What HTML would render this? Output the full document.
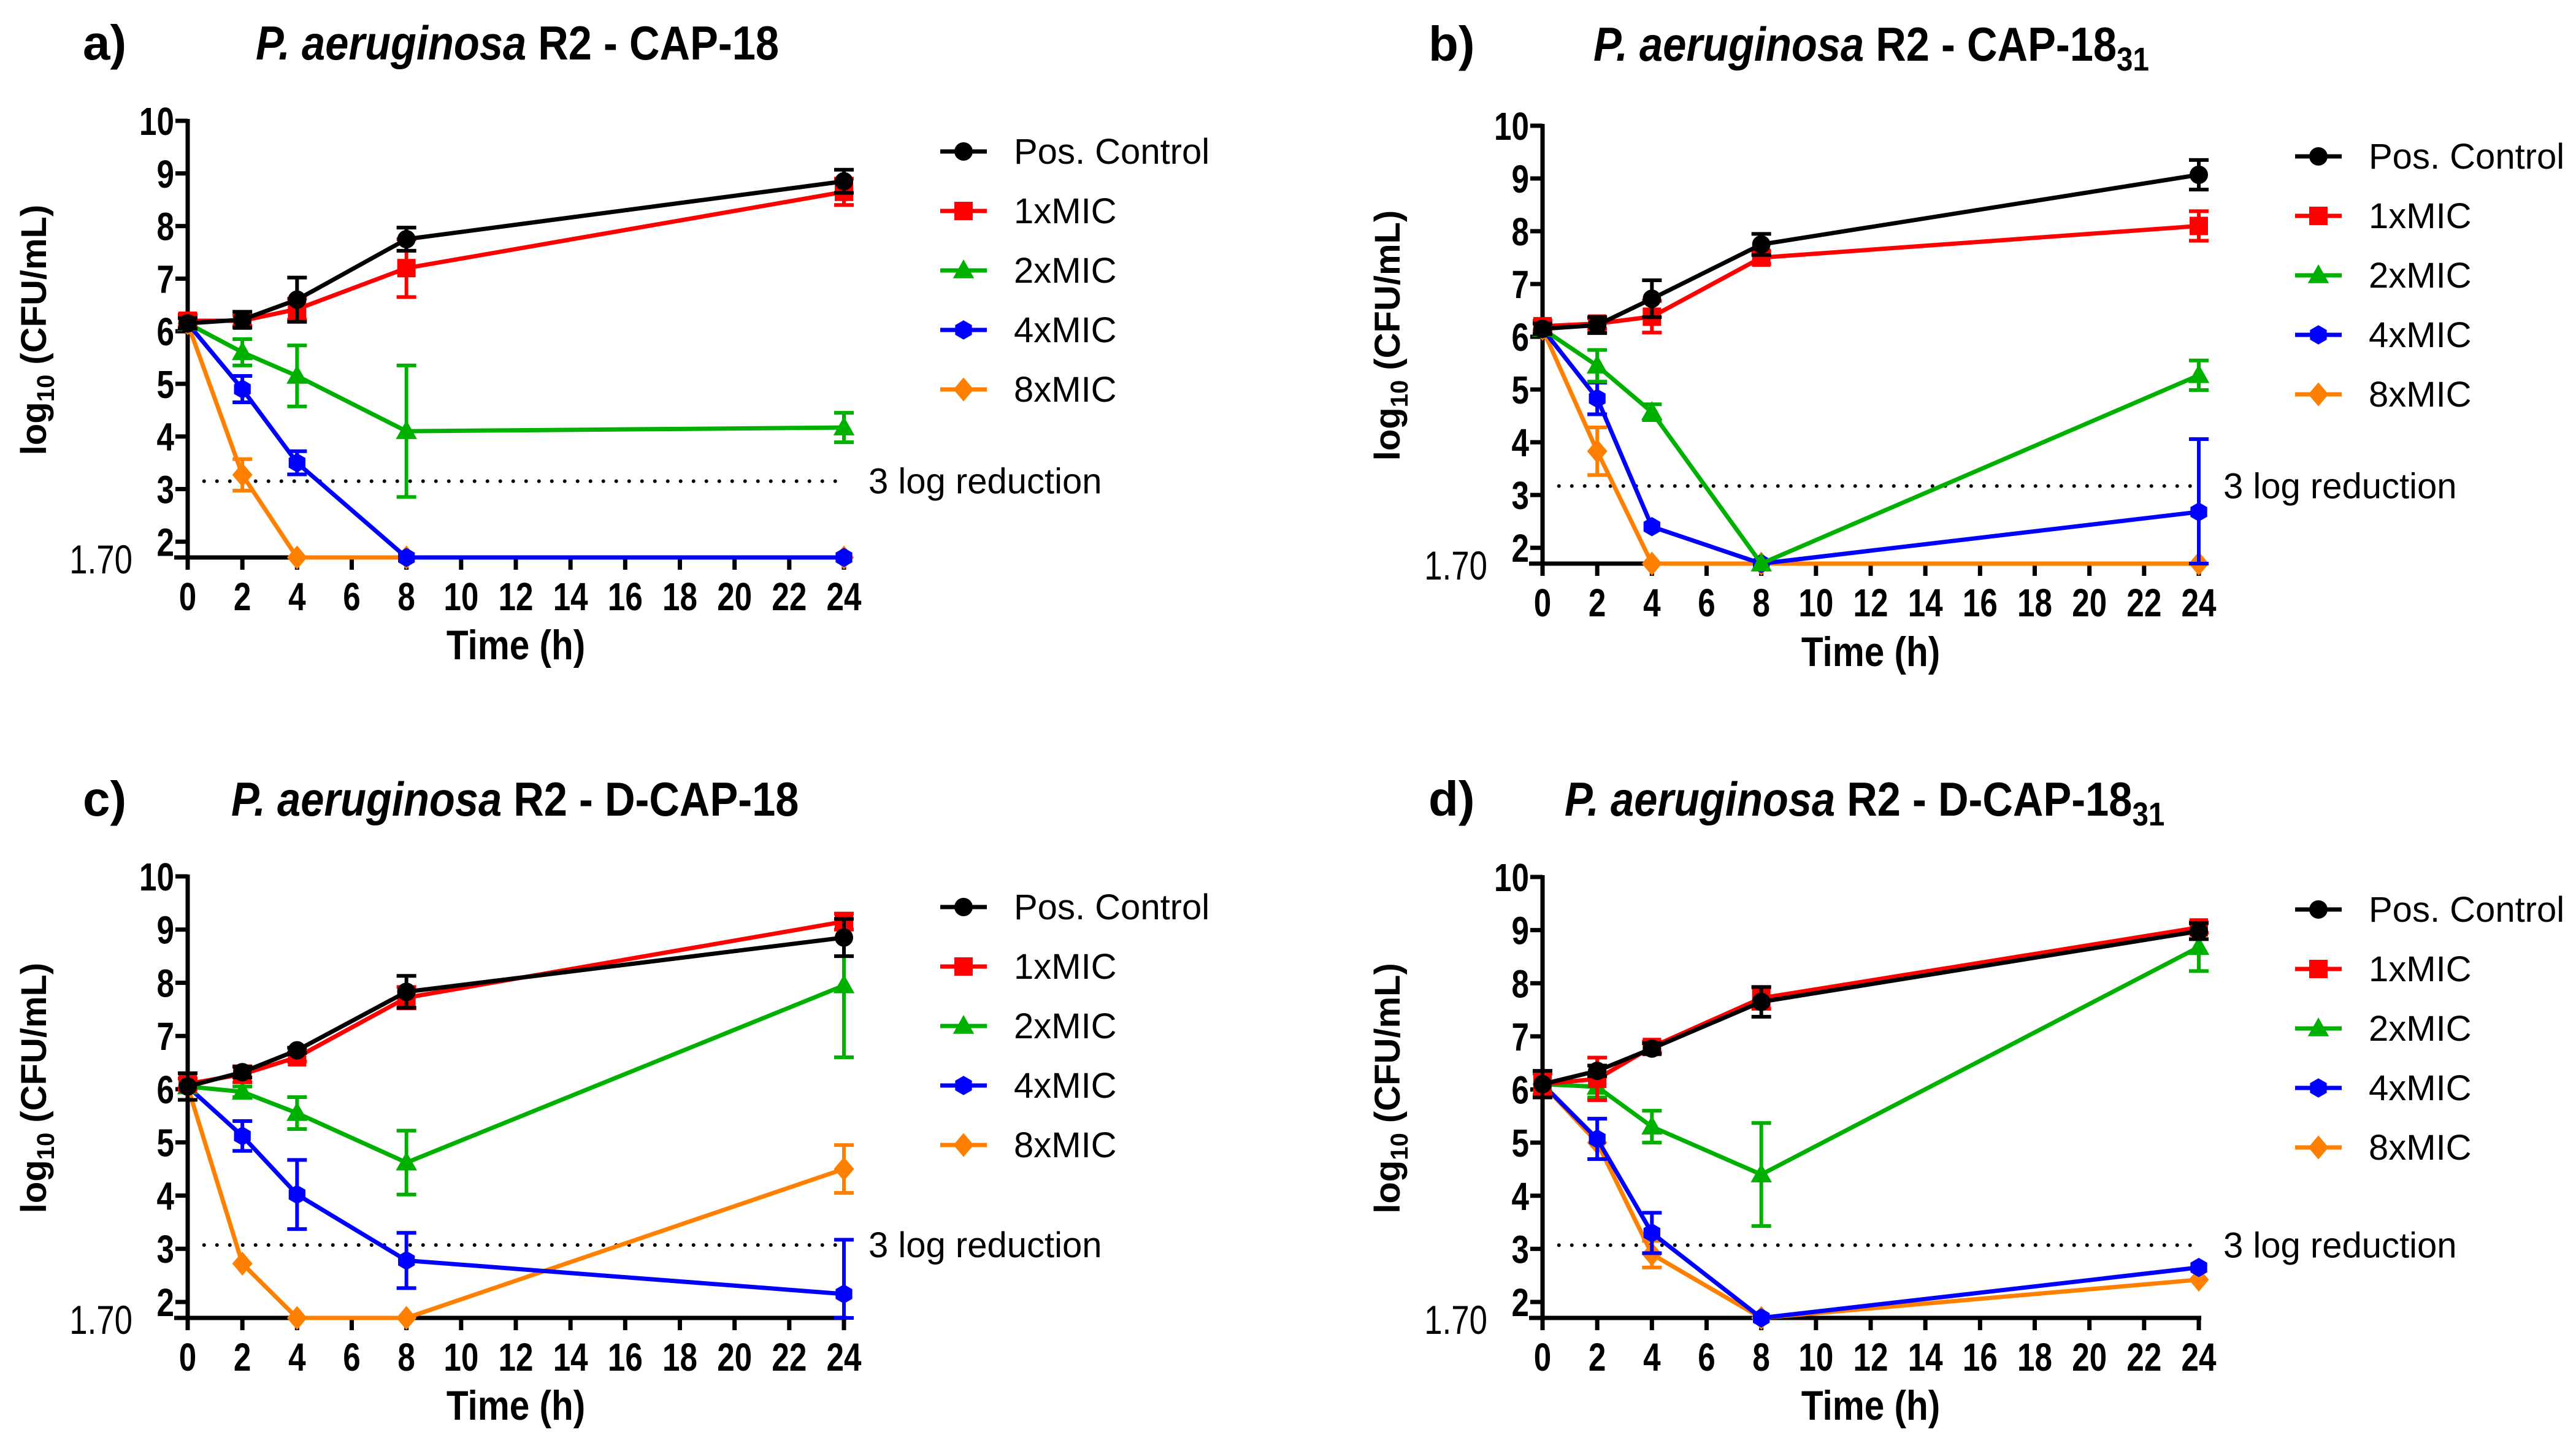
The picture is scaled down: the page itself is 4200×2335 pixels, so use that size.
<!DOCTYPE html>
<html><head><meta charset="utf-8"><style>
html,body{margin:0;padding:0;background:#fff;}
svg{display:block;}
text{font-family:"Liberation Sans",Arial,sans-serif;}
</style></head>
<body>
<svg id="fig" width="4200" height="2335" viewBox="0 0 4200 2335" xmlns="http://www.w3.org/2000/svg"></svg>
<script>
// ---- data ----
const times = [0, 2, 4, 8, 24];
const seriesNames = ["Pos. Control", "1xMIC", "2xMIC", "4xMIC", "8xMIC"];
const xTicks = [0, 2, 4, 6, 8, 10, 12, 14, 16, 18, 20, 22, 24];
const yTicks = [2, 3, 4, 5, 6, 7, 8, 9, 10];

const aPos = [6.15, 6.22, 6.6, 7.75, 8.85];   const aPosErr = [0.1, 0.15, 0.42, 0.22, 0.22];
const a1x  = [6.2, 6.2, 6.42, 7.2, 8.65];     const a1xErr  = [0.12, 0.1, 0.2, 0.55, 0.25];
const a2x  = [6.15, 5.6, 5.15, 4.1, 4.17];    const a2xErr  = [0, 0.25, 0.58, 1.25, 0.28];
const a4x  = [6.15, 4.9, 3.5, 1.7, 1.7];      const a4xErr  = [0, 0.25, 0.22, 0, 0];
const a8x  = [6.15, 3.27, 1.7, 1.7, 1.7];     const a8xErr  = [0, 0.3, 0, 0, 0];

const bPos = [6.15, 6.22, 6.72, 7.75, 9.07];  const bPosErr = [0.1, 0.15, 0.35, 0.2, 0.28];
const b1x  = [6.2, 6.25, 6.38, 7.5, 8.1];     const b1xErr  = [0.1, 0.1, 0.3, 0.12, 0.28];
const b2x  = [6.15, 5.45, 4.57, 1.7, 5.27];   const b2xErr  = [0, 0.3, 0.15, 0, 0.28];
const b4x  = [6.15, 4.83, 2.4, 1.7, 2.68];    const b4xErr  = [0, 0.3, 0, 0, 1.38];
const b8x  = [6.15, 3.83, 1.7, 1.7, 1.7];     const b8xErr  = [0, 0.45, 0, 0, 0];

const cPos = [6.05, 6.32, 6.73, 7.83, 8.85];  const cPosErr = [0.25, 0.1, 0.05, 0.3, 0.35];
const c1x  = [6.1, 6.28, 6.6, 7.72, 9.15];    const c1xErr  = [0.1, 0.15, 0.08, 0.2, 0.15];
const c2x  = [6.05, 5.95, 5.55, 4.62, 7.95];  const c2xErr  = [0, 0.1, 0.3, 0.6, 1.35];
const c4x  = [6.05, 5.12, 4.02, 2.78, 2.15];  const c4xErr  = [0, 0.28, 0.65, 0.52, 1.02];
const c8x  = [6.05, 2.72, 1.7, 1.7, 4.5];     const c8xErr  = [0, 0, 0, 0, 0.45];

const dPos = [6.1, 6.35, 6.77, 7.65, 8.98];   const dPosErr = [0.25, 0.1, 0.1, 0.28, 0.15];
const d1x  = [6.1, 6.2, 6.8, 7.72, 9.05];     const d1xErr  = [0.2, 0.4, 0.1, 0.2, 0.1];
const d2x  = [6.1, 6.05, 5.3, 4.4, 8.68];     const d2xErr  = [0, 0.2, 0.3, 0.97, 0.45];
const d4x  = [6.1, 5.07, 3.3, 1.7, 2.65];     const d4xErr  = [0, 0.38, 0.38, 0, 0];
const d8x  = [6.1, 5.0, 2.9, 1.7, 2.42];      const d8xErr  = [0, 0, 0.25, 0, 0];

const reductionLevels = [3.15, 3.17, 3.07, 3.07];

// ---- styles / layout ----
const colors = ["#000000", "#ff0000", "#00b000", "#0000ff", "#ff8000"];
const shapes = ["circle", "square", "triangle", "hexagon", "diamond"];
const panels = [
  {id:"a", label:"a)", title:["P. aeruginosa"," R2 - CAP-18",""], x0:306, x1:1376, yTop:197, yBot:909, lx:1533, ly:247, labX:135, titleX:417, titleY:97, ytX:55, xtY:1075,
   data:[[aPos,aPosErr],[a1x,a1xErr],[a2x,a2xErr],[a4x,a4xErr],[a8x,a8xErr]]},
  {id:"b", label:"b)", title:["P. aeruginosa"," R2 - CAP-18","31"], x0:2515, x1:3585, yTop:205, yBot:919, lx:3742, ly:255, labX:2329, titleX:2598, titleY:99, ytX:2262, xtY:1086,
   data:[[bPos,bPosErr],[b1x,b1xErr],[b2x,b2xErr],[b4x,b4xErr],[b8x,b8xErr]]},
  {id:"c", label:"c)", title:["P. aeruginosa"," R2 - D-CAP-18",""], x0:306, x1:1376, yTop:1429, yBot:2149, lx:1533, ly:1479, labX:135, titleX:377, titleY:1330, ytX:55, xtY:2315,
   data:[[cPos,cPosErr],[c1x,c1xErr],[c2x,c2xErr],[c4x,c4xErr],[c8x,c8xErr]]},
  {id:"d", label:"d)", title:["P. aeruginosa"," R2 -  D-CAP-18","31"], x0:2515, x1:3585, yTop:1430, yBot:2149, lx:3742, ly:1483, labX:2329, titleX:2551, titleY:1330, ytX:2262, xtY:2315,
   data:[[dPos,dPosErr],[d1x,d1xErr],[d2x,d2xErr],[d4x,d4xErr],[d8x,d8xErr]]}
];

const NS = "http://www.w3.org/2000/svg";
const svg = document.getElementById("fig");
function mk(tag, attrs, parent) {
  const e = document.createElementNS(NS, tag);
  for (const k in attrs) e.setAttribute(k, attrs[k]);
  (parent || svg).appendChild(e);
  return e;
}
function marker(g, shape, cx, cy, col, r) {
  let e;
  if (shape === "circle") e = mk("circle", {cx:cx, cy:cy, r:r, fill:col}, g);
  else if (shape === "square") e = mk("rect", {x:cx-r, y:cy-r, width:2*r, height:2*r, fill:col}, g);
  else if (shape === "triangle") e = mk("polygon", {points:`${cx},${cy-r*1.2} ${cx-r*1.15},${cy+r*0.85} ${cx+r*1.15},${cy+r*0.85}`, fill:col}, g);
  else if (shape === "hexagon") {
    let p = [];
    for (let i = 0; i < 6; i++) { const a = Math.PI/6 + i*Math.PI/3; p.push((cx+r*1.05*Math.cos(a))+","+(cy+r*1.05*Math.sin(a))); }
    e = mk("polygon", {points:p.join(" "), fill:col}, g);
  } else e = mk("polygon", {points:`${cx},${cy-r*1.3} ${cx+r*1.1},${cy} ${cx},${cy+r*1.3} ${cx-r*1.1},${cy}`, fill:col}, g);
  return e;
}

panels.forEach((P, pi) => {
  const yMin = 1.7, yMax = 10;
  const X = t => P.x0 + (t / 24) * (P.x1 - P.x0);
  const Y = v => P.yBot - (v - yMin) / (yMax - yMin) * (P.yBot - P.yTop);
  const g = mk("g", {});
  
  

  const lab = mk("text", {x:P.labX, y:P.titleY, "font-size":80, "font-weight":"bold"}, g);
  lab.textContent = P.label;
  
  
  const tt = mk("text", {transform:`translate(${P.titleX},${P.titleY}) scale(0.88,1)`, "font-size":78, "font-weight":"bold"}, g);
  const t1 = mk("tspan", {"font-style":"italic"}, tt); t1.textContent = P.title[0];
  const t2 = mk("tspan", {}, tt); t2.textContent = P.title[1];
  if (P.title[2]) { const t3 = mk("tspan", {"font-size":54, dy:16}, tt); t3.textContent = P.title[2]; }
  
  

  const ax = mk("g", {}, g);
  
  
  mk("line", {x1:P.x0, y1:P.yTop-3, x2:P.x0, y2:P.yBot, stroke:"#000", "stroke-width":7}, ax);
  mk("line", {x1:P.x0-22, y1:P.yBot, x2:P.x1+4, y2:P.yBot, stroke:"#000", "stroke-width":7}, ax);
  yTicks.forEach(v => {
    mk("line", {x1:P.x0-20, y1:Y(v), x2:P.x0, y2:Y(v), stroke:"#000", "stroke-width":7}, ax);
    const t = mk("text", {transform:`translate(${P.x0-22},${Y(v)+23}) scale(0.8,1)`, "font-size":64, "font-weight":"bold", "text-anchor":"end"}, ax);
    t.textContent = v;
    
    
  });
  const t170 = mk("text", {transform:`translate(${P.x0-90},${P.yBot+26}) scale(0.8,1)`, "font-size":66, "text-anchor":"end"}, ax);
  t170.textContent = "1.70";
  
  
  xTicks.forEach(v => {
    mk("line", {x1:X(v), y1:P.yBot, x2:X(v), y2:P.yBot+20, stroke:"#000", "stroke-width":7}, ax);
    const t = mk("text", {transform:`translate(${X(v)},${P.yBot+86}) scale(0.8,1)`, "font-size":64, "font-weight":"bold", "text-anchor":"middle"}, ax);
    t.textContent = v;
    
    
  });
  const xt = mk("text", {transform:`translate(${(P.x0+P.x1)/2},${P.xtY}) scale(0.86,1)`, "font-size":68, "font-weight":"bold", "text-anchor":"middle"}, g);
  xt.textContent = "Time (h)";
  
  
  const yc = (P.yTop + P.yBot) / 2 - 15;
  const yt = mk("text", {transform:`translate(${P.ytX+20},${yc}) rotate(-90)`, "font-size":58, "font-weight":"bold", "text-anchor":"middle"}, g);
  const y1 = mk("tspan", {}, yt); y1.textContent = "log";
  const y2 = mk("tspan", {"font-size":40, dy:13}, yt); y2.textContent = "10";
  const y3 = mk("tspan", {dy:-13}, yt); y3.textContent = " (CFU/mL)";
  
  

  const rl = reductionLevels[pi];
  const rline = mk("line", {x1:X(0.6), y1:Y(rl), x2:X(24), y2:Y(rl), stroke:"#000", "stroke-width":6, "stroke-dasharray":"0 21", "stroke-linecap":"round"}, g);
  
  
  const rt = mk("text", {x:X(24)+40, y:Y(rl)+20, "font-size":58}, g);
  rt.textContent = "3 log reduction";
  
  

  for (let s = 4; s >= 0; s--) {
    const vals = P.data[s][0], errs = P.data[s][1], col = colors[s];
    const sg = mk("g", {}, g);
    
    
    const pts = times.map((t, i) => X(t) + "," + Y(vals[i])).join(" ");
    mk("polyline", {points:pts, fill:"none", stroke:col, "stroke-width":7, "stroke-linejoin":"round"}, sg);
    times.forEach((t, i) => {
      if (errs[i] > 0) {
        const x = X(t), ya = Y(vals[i] + errs[i]), yb = Y(Math.max(yMin, vals[i] - errs[i]));
        const eb = mk("path", {d:`M${x},${ya}V${yb}M${x-16},${ya}H${x+16}M${x-16},${yb}H${x+16}`, stroke:col, "stroke-width":6, fill:"none"}, sg);
        
        
      }
      const m = marker(sg, shapes[s], X(t), Y(vals[i]), col, 15);
      
      
    });
  }

  const lg = mk("g", {}, g);
  
  
  seriesNames.forEach((n, s) => {
    const y = P.ly + s * 97;
    const le = mk("g", {}, lg);
    
    
    mk("line", {x1:P.lx, y1:y, x2:P.lx+76, y2:y, stroke:colors[s], "stroke-width":7}, le);
    marker(le, shapes[s], P.lx+38, y, colors[s], 15);
    const t = mk("text", {x:P.lx+120, y:y+20, "font-size":58}, le);
    t.textContent = n;
  });
});
</script>
</body></html>
